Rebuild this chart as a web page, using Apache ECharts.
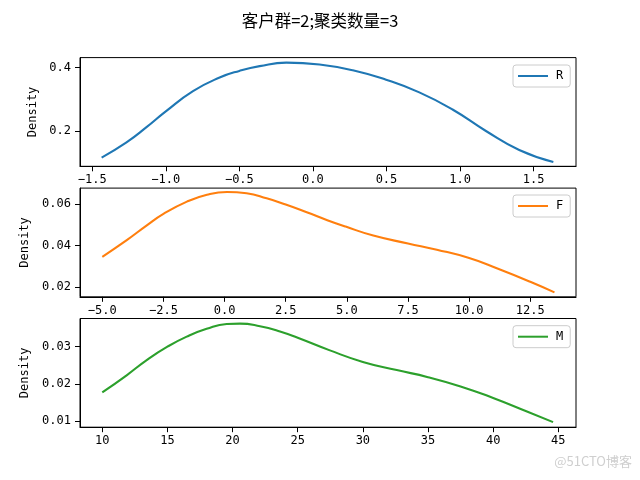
<!DOCTYPE html>
<html>
<head>
<meta charset="utf-8">
<script src="https://cdn.jsdelivr.net/npm/echarts@6/dist/echarts.min.js"></script>
<style>html,body{margin:0;padding:0;background:#fff;}#c{width:640px;height:480px;}</style>
</head>
<body>
<div id="c"></div>
<script>
// ---- data (KDE curves) ----
const rX = [-1.436, -1.267, -1.131, -1.0, -0.815, -0.634, -0.5, -0.362, -0.181, 0.045, 0.271, 0.497, 0.723, 0.949, 1.176, 1.402, 1.634];
const rY = [0.116, 0.164, 0.212, 0.262, 0.326, 0.369, 0.390, 0.405, 0.416, 0.410, 0.392, 0.362, 0.322, 0.268, 0.200, 0.140, 0.102];

const fX = [-5.0, -4.0, -3.18, -2.5, -1.54, -0.72, 0.1, 0.9, 1.72, 2.5, 3.36, 4.2, 4.95, 6.08, 7.5, 8.68, 10.0, 11.13, 12.5, 13.49];
const fY = [0.0347, 0.0427, 0.0498, 0.0553, 0.0612, 0.0645, 0.0658, 0.0652, 0.0628, 0.0598, 0.0561, 0.0523, 0.0492, 0.0449, 0.0411, 0.0381, 0.0341, 0.0292, 0.0227, 0.0176];

const mX = [10.0, 11.87, 13.41, 15.0, 16.48, 18.01, 19.55, 20.57, 22.1, 23.64, 25.0, 27.47, 30.0, 32.6, 35.0, 37.5, 40.0, 42.5, 44.6];
const mY = [0.0177, 0.0223, 0.0264, 0.0300, 0.0327, 0.0348, 0.0361, 0.0362, 0.0355, 0.0341, 0.0324, 0.0290, 0.0259, 0.0237, 0.0218, 0.0193, 0.0162, 0.0127, 0.0097];

const names = ['R', 'F', 'M'];
const titleText = '客户群=2;聚类数量=3';
const yName = 'Density';

const rXTicks = [-1.5, -1.0, -0.5, 0.0, 0.5, 1.0, 1.5];
const rYTicks = [0.2, 0.4];
const fXTicks = [-5.0, -2.5, 0.0, 2.5, 5.0, 7.5, 10.0, 12.5];
const fYTicks = [0.02, 0.04, 0.06];
const mXTicks = [10, 15, 20, 25, 30, 35, 40, 45];
const mYTicks = [0.01, 0.02, 0.03];

// ---- layout / style ----
const colors = ['#1f77b4', '#ff7f0e', '#2ca02c'];
const MONO = '"DejaVu Sans Mono", monospace';
const CJK = '"Noto Sans CJK SC", sans-serif';
const gridTops = [57.6, 188.1, 318.5];
const gridH = 108.7;
const ranges = [
  {x: [-1.583, 1.788], y: [0.0884, 0.432]},
  {x: [-5.912, 14.37], y: [0.01547, 0.0677]},
  {x: [8.29, 46.36], y: [0.00833, 0.03758]}
];
const xTicks = [rXTicks, fXTicks, mXTicks];
const yTicks = [rYTicks, fYTicks, mYTicks];
const xDec = [1, 1, 0];
const yDec = [1, 2, 2];
const nameGaps = [35, 41, 41];

function fmt(v, d) { return v.toFixed(d).replace('-', '\u2212'); }
function pairs(xs, ys) { return xs.map((x, i) => [x, ys[i]]); }

const grids = gridTops.map(t => ({
  left: 80, right: 64, top: t, height: gridH,
  show: true, borderColor: '#000', borderWidth: 1, backgroundColor: 'transparent'
}));

const xAxes = [0, 1, 2].map(i => ({
  type: 'value', gridIndex: i, min: ranges[i].x[0], max: ranges[i].x[1],
  axisLine: {show: true, onZero: false, lineStyle: {color: '#000', width: 1}},
  axisTick: {show: true, length: 5, lineStyle: {color: '#000', width: 1}, customValues: xTicks[i]},
  axisLabel: {customValues: xTicks[i], formatter: v => fmt(v, xDec[i]), color: '#000',
    fontFamily: MONO, fontSize: 12, margin: 8},
  splitLine: {show: false}
}));

const yAxes = [0, 1, 2].map(i => ({
  type: 'value', gridIndex: i, min: ranges[i].y[0], max: ranges[i].y[1],
  name: yName, nameLocation: 'middle', nameGap: nameGaps[i],
  nameTextStyle: {color: '#000', fontFamily: MONO, fontSize: 12},
  axisLine: {show: true, onZero: false, lineStyle: {color: '#000', width: 1}},
  axisTick: {show: true, length: 5, lineStyle: {color: '#000', width: 1}, customValues: yTicks[i]},
  axisLabel: {customValues: yTicks[i], formatter: v => fmt(v, yDec[i]), color: '#000',
    fontFamily: MONO, fontSize: 12, margin: 9},
  splitLine: {show: false}
}));

const seriesData = [pairs(rX, rY), pairs(fX, fY), pairs(mX, mY)];
const series = [0, 1, 2].map(i => ({
  type: 'line', name: names[i], xAxisIndex: i, yAxisIndex: i,
  data: seriesData[i], smooth: 0.5, symbol: 'none', showSymbol: false,
  lineStyle: {color: colors[i], width: 2.1}, itemStyle: {color: colors[i]},
  animation: false
}));

const legendTops = [65, 195, 325.7];
const legends = [0, 1, 2].map(i => ({
  data: [{name: names[i], icon: 'path://M0,0L30,0L30,2L0,2Z'}],
  left: 513, top: legendTops[i], orient: 'vertical',
  itemWidth: 30, itemHeight: 14, padding: [5, 7, 5, 5],
  backgroundColor: 'rgba(255,255,255,0.8)', borderColor: '#cccccc', borderWidth: 1, borderRadius: 3,
  textStyle: {color: '#000', fontFamily: MONO, fontSize: 12, padding: [0, 0, 0, 3]},
  itemStyle: {color: colors[i]}, selectedMode: false
}));

const chart = echarts.init(document.getElementById('c'), null, {renderer: 'canvas'});
chart.setOption({
  animation: false,
  backgroundColor: '#fff',
  title: {text: titleText, left: 'center', top: 7,
    textStyle: {fontFamily: CJK, fontSize: 16.5, fontWeight: 'normal', color: '#000'}},
  grid: grids, xAxis: xAxes, yAxis: yAxes, series: series, legend: legends,
  graphic: [{type: 'text', right: 8, top: 455,
    style: {text: '@51CTO博客', fill: '#cfcfcf', font: '13px ' + CJK}}]
});
</script>
</body>
</html>
